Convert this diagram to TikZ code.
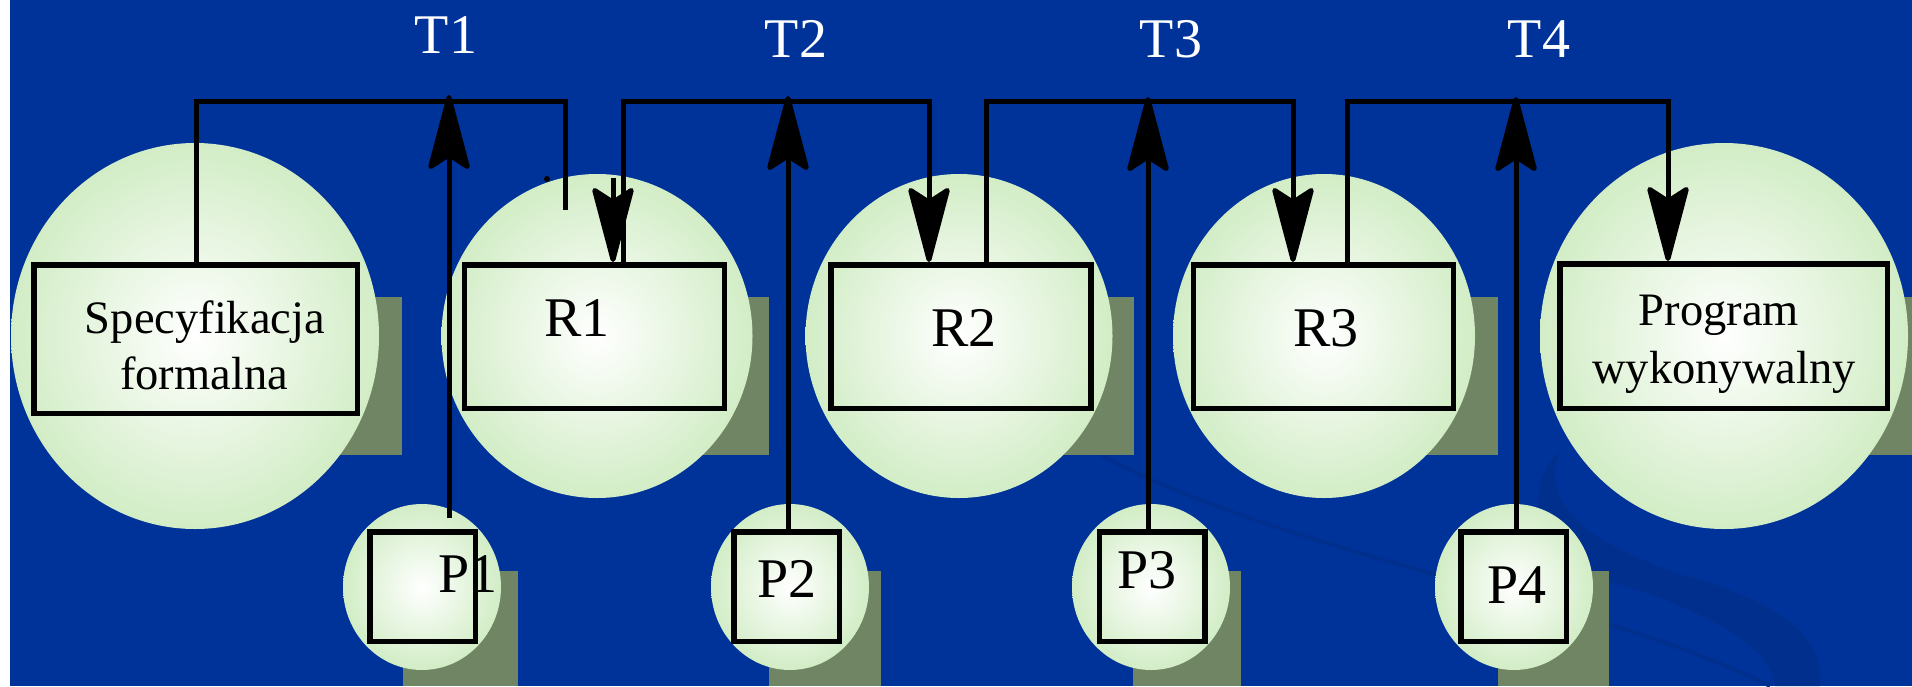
\documentclass[tikz,border=0pt]{standalone}
\usepackage{fontspec}
\setmainfont{Liberation Serif}
\usetikzlibrary{arrows.meta,shapes.geometric}
\definecolor{bgblue}{HTML}{003399}
\definecolor{eggreen}{HTML}{D2EDC6}
\definecolor{shadowgreen}{HTML}{6F8563}
\definecolor{swooshblue}{HTML}{002F8E}

\begin{document}
\begin{tikzpicture}[x=1pt,y=-1pt,
  egg/.style={ellipse, draw=none, inner sep=0pt, inner color=white, outer color=eggreen},
  bigegg/.style={egg, minimum width=368pt, minimum height=386pt},
  midegg/.style={egg, minimum height=324pt},
  smallegg/.style={egg, minimum width=158pt, minimum height=166pt},
  box/.style={rectangle, draw=black, line width=5.5pt, inner sep=0pt},
  rbox/.style={box, minimum width=260pt, minimum height=143.5pt},
  pbox/.style={box, minimum width=105.5pt, minimum height=109.5pt},
  shadowrect/.style={fill=shadowgreen},
  conn/.style={draw=black, line width=5pt, line join=miter},
  tipped/.style={conn, -{Stealth[length=84pt, width=44pt, inset=14pt, round]}},
  lbl/.style={inner sep=0pt, anchor=base, font=\fontsize{56}{60}\selectfont},
  smalllbl/.style={inner sep=0pt, anchor=base, font=\fontsize{46.5}{57}\selectfont},
  toplbl/.style={lbl, text=white}]

\useasboundingbox (0,0) rectangle (1912,686);
\fill[white] (0,0) rectangle (1912,686);
\fill[bgblue] (10,0) rectangle (1912,686);

% faint swoosh of the backdrop
\draw[swooshblue, line width=4pt] (1100,455) .. controls (1300,560) and (1600,600) .. (1770,686);
\fill[swooshblue] (1560,450) .. controls (1540,500) and (1580,545) .. (1700,580)
  .. controls (1800,610) and (1825,650) .. (1820,686) -- (1775,686)
  .. controls (1770,650) and (1720,615) .. (1620,585)
  .. controls (1530,560) and (1520,490) .. (1560,450) -- cycle;

% drop shadows of the boxes
\fill[shadowrect] (73,297) rectangle (402,455);
\fill[shadowrect] (504,297) rectangle (769,455);
\fill[shadowrect] (870,297) rectangle (1134,455);
\fill[shadowrect] (1233,297) rectangle (1498,455);
\fill[shadowrect] (1601,297) rectangle (1912,455);
\fill[shadowrect] (403,571) rectangle (518,686);
\fill[shadowrect] (769,571) rectangle (881,686);
\fill[shadowrect] (1133,571) rectangle (1241,686);
\fill[shadowrect] (1498,571) rectangle (1609,686);

% shaded ellipses
\node[bigegg] (eS) at (195,336) {};
\node[midegg, minimum width=311pt] (eR1) at (597,336) {};
\node[midegg, minimum width=307pt] (eR2) at (959,336) {};
\node[midegg, minimum width=302pt] (eR3) at (1324,336) {};
\node[bigegg] (eP) at (1724,336) {};
\node[smallegg] (eP1) at (422,587) {};
\node[smallegg] (eP2) at (790,587) {};
\node[smallegg] (eP3) at (1151,587) {};
\node[smallegg] (eP4) at (1514,587) {};

% boxes
\node[box, minimum width=323.5pt, minimum height=148.5pt] (spec) at (195.5,339) {};
\node[rbox] (r1) at (594.5,336.5) {};
\node[rbox] (r2) at (961,336.5) {};
\node[rbox] (r3) at (1323.5,336.5) {};
\node[box, minimum width=327.5pt, minimum height=144.5pt] (prog) at (1723.5,336) {};
\node[pbox] (p1) at (422.5,586.5) {};
\node[pbox] (p2) at (786.5,586.5) {};
\node[pbox] (p3) at (1152,586.5) {};
\node[pbox] (p4) at (1513.5,586.5) {};

% bus corners and arrow points
\coordinate (t1a) at (196,101);
\coordinate (t1b) at (565,101);
\coordinate (t1end) at (565,210);
\coordinate (h1) at (613,178);
\coordinate (t2a) at (623,101);
\coordinate (t2b) at (929,101);
\coordinate (t3a) at (986,101);
\coordinate (t3b) at (1293,101);
\coordinate (t4a) at (1347,101);
\coordinate (t4b) at (1668,101);
\coordinate (u1) at (449,95);
\coordinate (u1s) at (449,518);
\coordinate (u2) at (788,96);
\coordinate (u3) at (1148,97);
\coordinate (u4) at (1516,97);

% transformation T1
\draw[conn] (spec.north -| t1a) -- (t1a) -- (t1b) -- (t1end);
\fill (547,179) circle (3pt);
\draw[tipped] (h1) -- (r1.north -| h1);
\draw[tipped] (u1s) -- (u1);
% transformation T2
\draw[tipped] (r1.north -| t2a) -- (t2a) -- (t2b) -- (r2.north -| t2b);
\draw[tipped] (p2.north -| u2) -- (u2);
% transformation T3
\draw[tipped] (r2.north -| t3a) -- (t3a) -- (t3b) -- (r3.north -| t3b);
\draw[tipped] (p3.north -| u3) -- (u3);
% transformation T4
\draw[tipped] (r3.north -| t4a) -- (t4a) -- (t4b) -- (prog.north -| t4b);
\draw[tipped] (p4.north -| u4) -- (u4);

% labels
\node[toplbl] (lt1) at (446,53) {T1};
\node[toplbl] (lt2) at (796,57) {T2};
\node[toplbl] (lt3) at (1171,57) {T3};
\node[toplbl] (lt4) at (1539,57) {T4};

\node[smalllbl] (lspec1) at (205,333) {Specyfikacja};
\node[smalllbl] (lspec2) at (204,389) {formalna};
\node[lbl] (lr1) at (577,336) {R1};
\node[lbl] (lr2) at (964,346) {R2};
\node[lbl] (lr3) at (1326,346) {R3};
\node[smalllbl] (lprog1) at (1719,325) {Program};
\node[smalllbl] (lprog2) at (1724,383) {wykonywalny};
\node[lbl] (lp1) at (468,592) {P1};
\node[lbl] (lp2) at (787,597) {P2};
\node[lbl] (lp3) at (1147,588) {P3};
\node[lbl] (lp4) at (1517,603) {P4};
\end{tikzpicture}
\end{document}
